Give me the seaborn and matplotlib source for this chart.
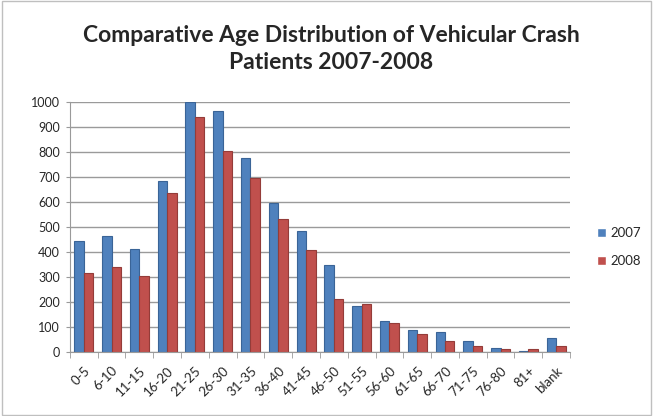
import matplotlib
matplotlib.use("Agg")
import matplotlib.pyplot as plt
import seaborn as sns
import pandas as pd
import numpy as np

categories = ["0-5", "6-10", "11-15", "16-20", "21-25", "26-30", "31-35", "36-40",
              "41-45", "46-50", "51-55", "56-60", "61-65", "66-70", "71-75",
              "76-80", "81+", "blank"]
values_2007 = [445, 462, 410, 685, 1000, 965, 775, 595, 483, 348, 182, 125, 88, 80, 44, 17, 4, 55]
values_2008 = [315, 340, 305, 635, 940, 805, 697, 533, 408, 213, 192, 115, 72, 42, 22, 10, 12, 25]
series = ["2007", "2008"]
yticks = list(range(0, 1001, 100))

df = pd.DataFrame({
    "Age": categories * 2,
    "Count": values_2007 + values_2008,
    "Year": [series[0]] * len(categories) + [series[1]] * len(categories),
})

sns.set_style("white")
plt.rcParams["font.family"] = ["Lato", "DejaVu Sans"]

fig = plt.figure(figsize=(6.53, 4.16), dpi=100)
ax = fig.add_axes([0.107, 0.154, 0.766, 0.601])

palette = {"2007": "#4F81BD", "2008": "#C0504D"}
sns.barplot(data=df, x="Age", y="Count", hue="Year", palette=palette,
            width=0.68, gap=0.0, ax=ax, saturation=1)
for patch, col in zip(ax.patches, ["#3A6497"] * len(categories) + ["#943C39"] * len(categories)):
    patch.set_edgecolor(col)
    patch.set_linewidth(0.8)

ax.set_ylim(0, 1000)
ax.set_yticks(yticks)
ax.set_xlim(-0.5, len(categories) - 0.5)
ax.yaxis.grid(True, color="#9a9a9a", linewidth=1)
ax.set_axisbelow(True)
ax.set_xlabel("")
ax.set_ylabel("")
for s in ["top", "right"]:
    ax.spines[s].set_visible(False)
ax.spines["left"].set_color("#9a9a9a")
ax.spines["bottom"].set_color("#9a9a9a")
ax.tick_params(axis="y", labelsize=9, length=3, color="#9a9a9a", left=True, pad=4)
ax.tick_params(axis="x", labelsize=9.5, length=0, pad=9)
ax.set_xticks(np.arange(-0.5, len(categories), 1.0), minor=True)
ax.tick_params(axis="x", which="minor", length=4, color="#9a9a9a", bottom=True)
plt.setp(ax.get_xticklabels(), rotation=45, ha="right", rotation_mode="anchor")

leg = ax.legend(loc="center left", bbox_to_anchor=(1.03, 0.42), frameon=False,
                fontsize=9.5, handlelength=0.7, handleheight=0.7, handletextpad=0.3,
                labelspacing=1.2)

fig.text(0.507, 0.915, "Comparative Age Distribution of Vehicular Crash",
         ha="center", va="center", fontsize=16.5, fontweight="bold")
fig.text(0.507, 0.85, "Patients 2007-2008",
         ha="center", va="center", fontsize=16.5, fontweight="bold")

border = plt.Rectangle((0.003, 0.003), 0.994, 0.994, transform=fig.transFigure,
                       fill=False, edgecolor="#bfbfbf", linewidth=1)
fig.patches.append(border)

fig.savefig("out.png", dpi=100)
